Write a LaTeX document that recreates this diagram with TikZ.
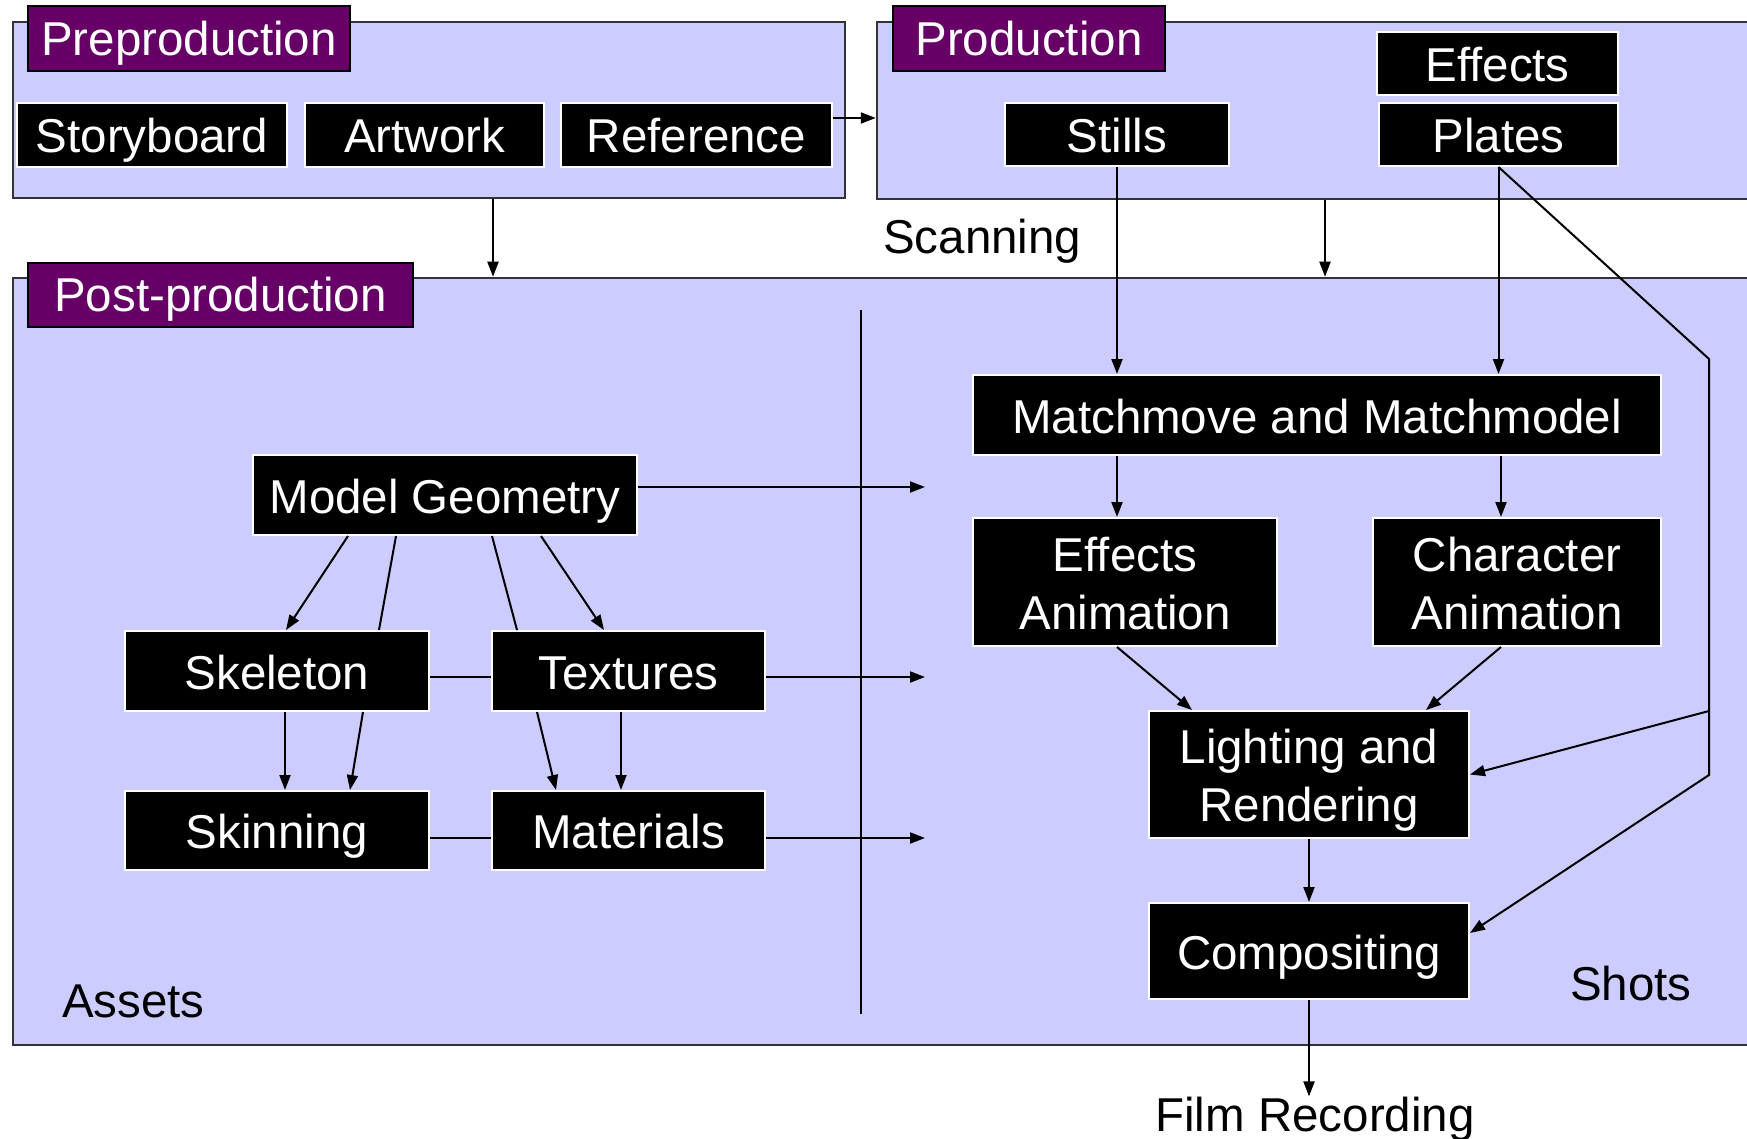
\documentclass[tikz,border=0pt]{standalone}
\usepackage{fontspec}
\setmainfont{Liberation Sans}
\usetikzlibrary{arrows.meta}
\definecolor{lav}{HTML}{CCCCFF}
\definecolor{plum}{HTML}{660066}
\definecolor{frameline}{HTML}{333333}

\begin{document}
\begin{tikzpicture}[x=1pt,y=-1pt,
	font=\fontsize{47.5}{58}\selectfont,
	stage/.style={draw=frameline,line width=2.5pt,fill=lav,inner sep=0},
	tag/.style={draw=black,line width=2pt,fill=plum,text=white,inner sep=0,minimum height=65,text height=39,text depth=5},
	blk/.style={draw=white,line width=2pt,fill=black,text=white,inner sep=0,align=center,minimum height=64,text height=41,text depth=5},
	twoline/.style={text height=99},
	plain/.style={inner sep=0},
	arr/.style={-{Triangle[length=15pt,width=11pt]},line width=2pt},
	lnk/.style={line width=2pt}]

	\useasboundingbox (0,0) rectangle (1747,1139);
	\clip (0,0) rectangle (1747,1139);

	% the three stages
	\node[stage,minimum width=832,minimum height=176] (pre) at (429,110) {};
	\node[stage,minimum width=883,minimum height=177] (prod) at (1318.5,110.5) {};
	\node[stage,minimum width=1760,minimum height=767] (post) at (893,661.5) {};

	\node[tag,minimum width=322] (pretag) at (189,38.5) {Preproduction};
	\node[tag,minimum width=272] (prodtag) at (1029,38.5) {Production};
	\node[tag,minimum width=385,minimum height=64] (posttag) at (220.5,295) {Post-production};

	\node[blk,minimum width=270] (story) at (152,135) {Storyboard};
	\node[blk,minimum width=239] (art) at (424.5,135) {Artwork};
	\node[blk,minimum width=271] (ref) at (696.5,135) {Reference};

	\node[blk,minimum width=224,minimum height=63] (stills) at (1117,134.5) {Stills};
	\node[blk,minimum width=241,minimum height=63] (fx) at (1497.5,63.5) {Effects};
	\node[blk,minimum width=239,minimum height=63] (plates) at (1498.5,134.5) {Plates};

	\node[plain,anchor=base west] (scan) at (883,254) {Scanning};

	% assets side
	\draw[line width=2.5pt] (861,310) -- (861,1014);

	\node[blk,minimum width=384,minimum height=80] (geom) at (445,495) {Model Geometry};
	\node[blk,minimum width=304,minimum height=80] (skel) at (277,671) {Skeleton};
	\node[blk,minimum width=273,minimum height=80] (tex) at (628.5,671) {Textures};
	\node[blk,minimum width=304,minimum height=79] (skin) at (277,830.5) {Skinning};
	\node[blk,minimum width=273,minimum height=79] (mat) at (628.5,830.5) {Materials};
	\node[plain,anchor=base west] (assets) at (62,1017) {Assets};

	% shots side
	\node[blk,minimum width=688,minimum height=80] (match) at (1317,415) {Matchmove and Matchmodel};
	\node[blk,twoline,minimum width=304,minimum height=128] (fxanim) at (1125,582) {Effects\\Animation};
	\node[blk,twoline,minimum width=288,minimum height=128] (charanim) at (1517,582) {Character\\Animation};
	\node[blk,twoline,minimum width=320,minimum height=127] (light) at (1309,774.5) {Lighting and\\Rendering};
	\node[blk,minimum width=320,minimum height=96] (comp) at (1309,951) {Compositing};
	\node[plain,anchor=base west] (shots) at (1570,1000) {Shots};
	\node[plain,anchor=base] (film) at (1315,1131) {Film Recording};

	\coordinate (kink) at (1709,359);
	\coordinate (tap) at (1709,711);
	\coordinate (foot) at (1709,775);
	\coordinate (geomout) at (925,487);
	\coordinate (texout) at (925,677);
	\coordinate (matout) at (925,838);

	% stage to stage
	\draw[arr] (ref.east |- 0,118) -- (prod.west |- 0,118);
	\draw[arr] (pre.south -| 493,0) -- (post.north -| 493,0);
	\draw[arr] (prod.south -| 1325,0) -- (post.north -| 1325,0);

	\draw[arr] (stills.south) -- (match.north -| stills.south);
	\draw[arr] (plates.south) -- (match.north -| plates.south);
	\draw[arr] (plates.south) -- (kink) -- (foot) -- (comp.east |- 0,933);
	\draw[arr] (tap) -- (light.east);

	\draw[arr] (match.south -| 1117,0) -- (fxanim.north -| 1117,0);
	\draw[arr] (match.south -| 1501,0) -- (charanim.north -| 1501,0);
	\draw[arr] (fxanim.south -| 1117,0) -- (light.north -| 1192,0);
	\draw[arr] (charanim.south -| 1501,0) -- (light.north -| 1426,0);
	\draw[arr] (light) -- (comp);
	\draw[arr] (comp) -- (film.north -| comp);

	\draw[arr] (geom.east |- geomout) -- (geomout);
	\draw[arr] (tex.east |- texout) -- (texout);
	\draw[arr] (mat.east |- matout) -- (matout);
	\draw[lnk] (skel.east |- texout) -- (tex.west |- texout);
	\draw[lnk] (skin.east |- matout) -- (mat.west |- matout);

	\draw[arr] (geom.south -| 348,0) -- (skel.north -| 286,0);
	\draw[lnk] (geom.south -| 396,0) -- (skel.north -| 379,0);
	\draw[lnk] (geom.south -| 492,0) -- (tex.north -| 517,0);
	\draw[arr] (geom.south -| 541,0) -- (tex.north -| 604,0);
	\draw[arr] (skel.south -| 285,0) -- (skin.north -| 285,0);
	\draw[arr] (skel.south -| 363,0) -- (skin.north -| 350,0);
	\draw[arr] (tex.south -| 537,0) -- (mat.north -| 556,0);
	\draw[arr] (tex.south -| 621,0) -- (mat.north -| 621,0);

\end{tikzpicture}
\end{document}
